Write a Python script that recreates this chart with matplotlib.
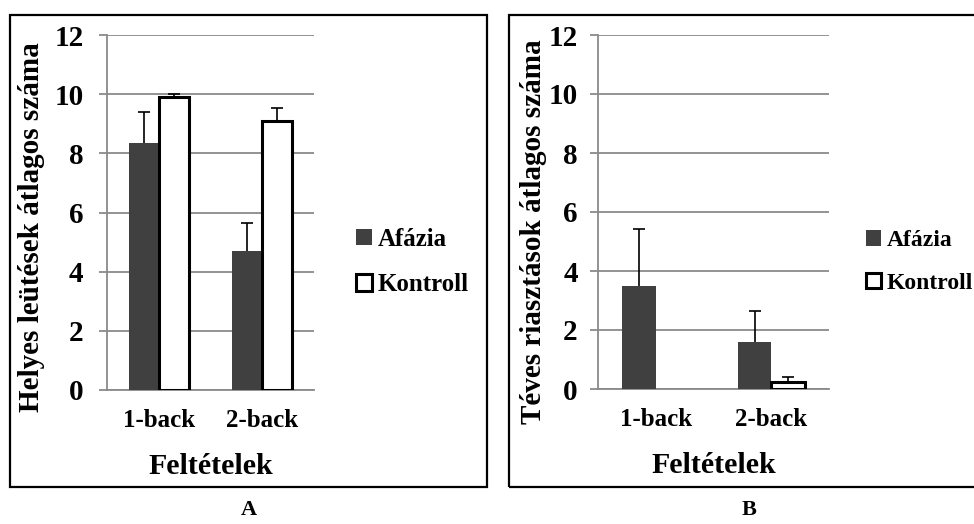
import matplotlib
matplotlib.use("Agg")
import matplotlib.pyplot as plt
import numpy as np
from matplotlib.patches import Rectangle, Patch

plt.rcParams['font.family'] = ['Liberation Serif', 'DejaVu Serif']
plt.rcParams['font.weight'] = 'bold'

categories = ['1-back', '2-back']
series = ['Afázia', 'Kontroll']

# Panel A: correct hits
a_afazia = [8.36, 4.71]
a_afazia_err = [1.04, 0.92]
a_kontroll = [9.92, 9.10]
a_kontroll_err = [0.08, 0.44]

# Panel B: false alarms
b_afazia = [3.48, 1.61]
b_afazia_err = [1.95, 1.04]
b_kontroll = [0.0, 0.24]
b_kontroll_err = [0.0, 0.16]

yticks = [0, 2, 4, 6, 8, 10, 12]
ylabel_a = 'Helyes leütések átlagos száma'
ylabel_b = 'Téves riasztások átlagos száma'
xlabel = 'Feltételek'
panel_labels = ['A', 'B']

W, H = 974, 524
fig = plt.figure(figsize=(W / 100, H / 100), dpi=100)

GRID = '#8a8a8a'
DARK = '#404040'
BW = 0.29


def px(x0, y0, x1, y1):
    return [x0 / W, 1 - y1 / H, (x1 - x0) / W, (y1 - y0) / H]


def upper_err(ax, xs, vals, errs):
    for xi, v, e in zip(xs, vals, errs):
        if v > 0:
            _, caps, _ = ax.errorbar([xi], [v], yerr=[[0], [e]], fmt='none',
                                     ecolor='black', elinewidth=1.2, capsize=4,
                                     capthick=1.2, zorder=4)
            if len(caps) > 1:
                caps[0].set_visible(False)


def draw_panel(rect, afz, afz_err, kon, kon_err, ylabel, ytick_pad, ylab_x, ylab_y,
               leg_x, leg_size):
    ax = fig.add_axes(rect)
    x = np.arange(len(categories))
    ax.bar(x - BW / 2, afz, width=BW, color=DARK, edgecolor='none', zorder=3)
    kon_lw = [2.2 if v > 0 else 0 for v in kon]
    ax.bar(x + BW / 2, kon, width=BW, color='white', edgecolor='black',
           linewidth=kon_lw, zorder=3)
    upper_err(ax, x - BW / 2, afz, afz_err)
    upper_err(ax, x + BW / 2, kon, kon_err)
    ax.set_xlim(-0.5, len(categories) - 0.5)
    ax.set_ylim(0, 12)
    ax.set_yticks(yticks)
    ax.set_xticks(x)
    ax.set_xticklabels(categories)
    ax.yaxis.grid(True, color=GRID, linewidth=1.3, zorder=0)
    ax.set_axisbelow(True)
    for s in ['top', 'right']:
        ax.spines[s].set_visible(False)
    for s in ['left', 'bottom']:
        ax.spines[s].set_color(GRID)
        ax.spines[s].set_linewidth(1.3)
    ax.tick_params(axis='y', length=6, width=1.3, color=GRID, labelsize=21,
                   pad=ytick_pad)
    ax.tick_params(axis='x', length=0, labelsize=18, pad=14)
    for t in ax.get_yticklabels() + ax.get_xticklabels():
        t.set_fontweight('bold')
    ax.set_xlabel(xlabel, fontsize=21.5, fontweight='bold')
    ax.xaxis.set_label_coords(0.5, -0.178)
    ax.set_ylabel(ylabel, fontsize=21, fontweight='bold')
    ax.yaxis.set_label_coords(ylab_x, ylab_y)
    handles = [Patch(facecolor=DARK, edgecolor='none'),
               Patch(facecolor='white', edgecolor='black', linewidth=2.2)]
    fig.legend(handles, series, loc='center left',
               bbox_to_anchor=(leg_x / W, 1 - 262 / H), frameon=False,
               prop={'family': 'Liberation Serif', 'weight': 'bold', 'size': leg_size},
               handlelength=0.62, handleheight=0.62, handletextpad=0.25,
               labelspacing=0.9, borderpad=0, borderaxespad=0)
    return ax


draw_panel(px(107, 35, 314, 390), a_afazia, a_afazia_err, a_kontroll, a_kontroll_err,
           ylabel_a, 11, -0.30, 0.46, 356, 18)
draw_panel(px(598, 35, 829, 389), b_afazia, b_afazia_err, b_kontroll, b_kontroll_err,
           ylabel_b, 8.5, -0.222, 0.443, 866, 17)

# Panel frames
fig.add_artist(Rectangle((10 / W, 1 - 487 / H), (487 - 10) / W, (487 - 15) / H,
                         transform=fig.transFigure, fill=False, edgecolor='black',
                         linewidth=1.6))
fig.add_artist(Rectangle((509 / W, 1 - 487 / H), (990 - 509) / W, (487 - 15) / H,
                         transform=fig.transFigure, fill=False, edgecolor='black',
                         linewidth=1.6, clip_on=False))

fig.text(249 / W, 1 - 510 / H, panel_labels[0], ha='center', va='center',
         fontsize=16, fontweight='bold')
fig.text(749 / W, 1 - 510 / H, panel_labels[1], ha='center', va='center',
         fontsize=16, fontweight='bold')

fig.savefig('out.png', dpi=100)
